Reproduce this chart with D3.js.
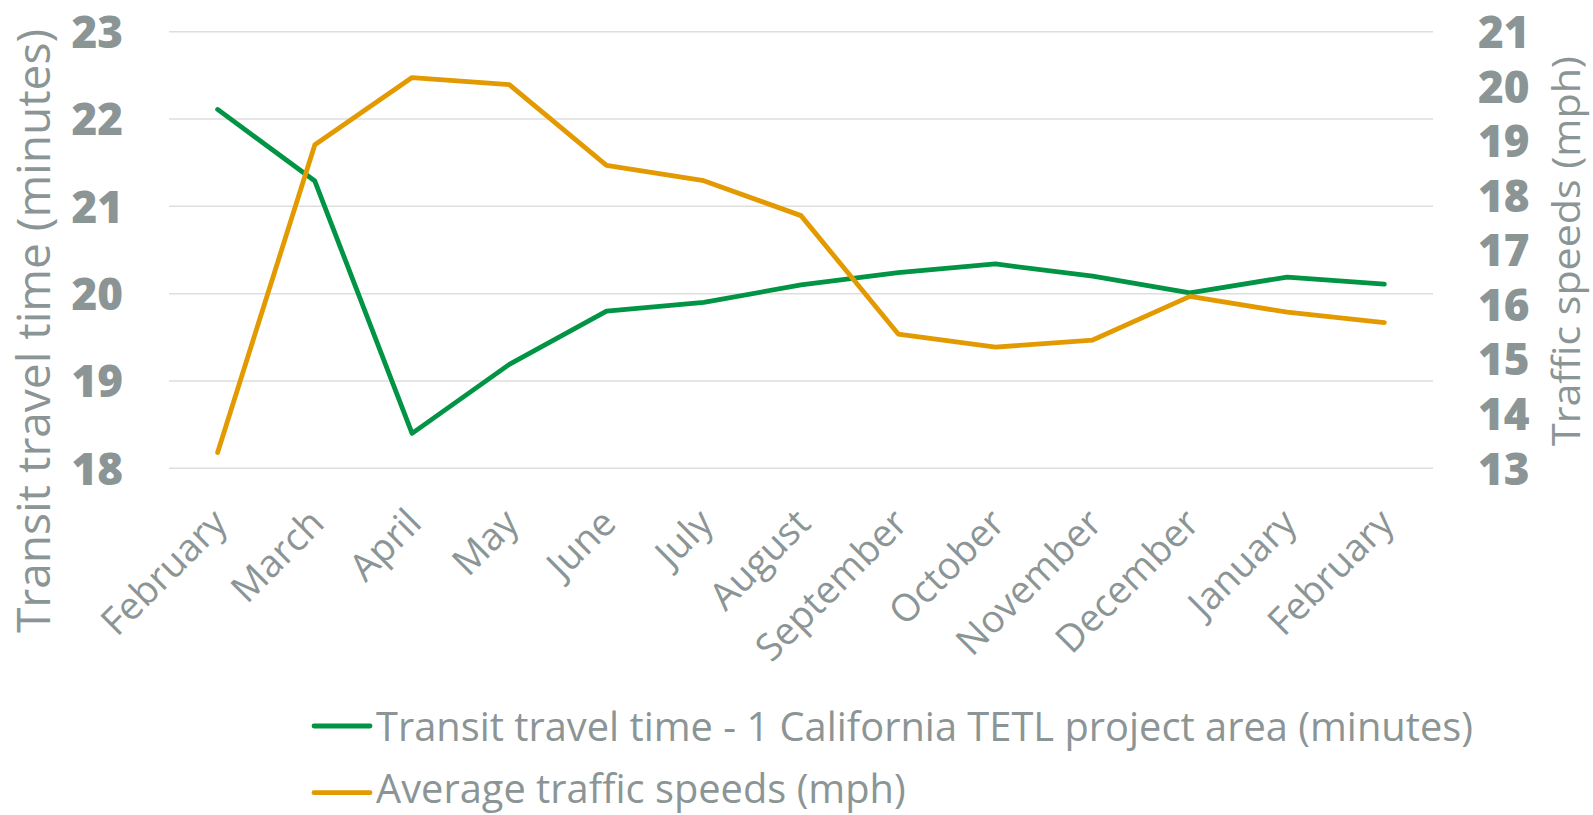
<!DOCTYPE html>
<html>
<head>
<meta charset="utf-8">
<script src="https://cdn.jsdelivr.net/npm/d3@7"></script>
<style>
  html, body { margin: 0; padding: 0; background: #fff; }
  svg { display: block; font-family: "Open Sans", "Noto Sans", sans-serif; }
</style>
</head>
<body>
<svg id="chart" width="1593" height="815"></svg>
<script>
// ---- data ----
const months = ["February","March","April","May","June","July","August","September","October","November","December","January","February"];
const transitTime = [22.11, 21.29, 18.40, 19.19, 19.80, 19.90, 20.10, 20.24, 20.34, 20.20, 20.01, 20.19, 20.11];
const trafficSpeed = [13.29, 18.93, 20.16, 20.03, 18.55, 18.27, 17.63, 15.46, 15.22, 15.35, 16.15, 15.86, 15.67];
const leftTicks = [18, 19, 20, 21, 22, 23];
const rightTicks = [13, 14, 15, 16, 17, 18, 19, 20, 21];
const seriesNames = ["Transit travel time - 1 California TETL project area (minutes)", "Average traffic speeds (mph)"];
const leftTitle = "Transit travel time (minutes)";
const rightTitle = "Traffic speeds (mph)";

// ---- style ----
const GREEN = "#009444", ORANGE = "#E39A00", TEXT = "#8c9595", GRID = "#dedede";
const plot = { left: 169, right: 1433, top: 31.7, bottom: 468.3 };

const svg = d3.select("#chart");

const x = d3.scalePoint().domain(d3.range(months.length)).range([plot.left, plot.right]).padding(0.5);
const yL = d3.scaleLinear().domain([18, 23]).range([plot.bottom, plot.top]);
const yR = d3.scaleLinear().domain([13, 21]).range([plot.bottom, plot.top]);

function fit(sel, target) {
  sel.each(function () {
    const len = this.getComputedTextLength();
    if (len > 0) d3.select(this).attr("textLength", target).attr("lengthAdjust", "spacingAndGlyphs");
  });
}
function squeeze(sel, k) {
  sel.each(function () {
    const len = this.getComputedTextLength();
    d3.select(this).attr("textLength", len * k).attr("lengthAdjust", "spacingAndGlyphs");
  });
}

// gridlines
svg.append("g").selectAll("line").data(leftTicks).join("line")
  .attr("x1", plot.left).attr("x2", plot.right)
  .attr("y1", d => yL(d)).attr("y2", d => yL(d))
  .attr("stroke", GRID).attr("stroke-width", 1.5);

// left axis
const gL = svg.append("g").attr("transform", `translate(${plot.left - 46},0)`)
  .call(d3.axisLeft(yL).tickValues(leftTicks).tickSize(0).tickPadding(0).tickFormat(d3.format("d")));
gL.select(".domain").remove();
gL.selectAll("text").attr("fill", TEXT).attr("font-size", 44).attr("font-weight", 800)
  .attr("font-family", "'Open Sans', sans-serif").attr("dy", "0.36em");

// right axis
const gR = svg.append("g").attr("transform", `translate(${plot.right + 45},0)`)
  .call(d3.axisRight(yR).tickValues(rightTicks).tickSize(0).tickPadding(0).tickFormat(d3.format("d")));
gR.select(".domain").remove();
gR.selectAll("text").attr("fill", TEXT).attr("font-size", 44).attr("font-weight", 800)
  .attr("font-family", "'Open Sans', sans-serif").attr("dy", "0.36em");

// x axis labels
const gX = svg.append("g").attr("transform", `translate(0,${plot.bottom})`)
  .call(d3.axisBottom(x).tickSize(0).tickFormat(i => months[i]));
gX.select(".domain").remove();
gX.selectAll("text")
  .attr("fill", TEXT).attr("font-size", 38).attr("font-family", "'Open Sans', sans-serif")
  .attr("text-anchor", "end").attr("dy", 0).attr("y", 0)
  .attr("transform", "translate(11,57) rotate(-45)");

// axis titles
const lt = svg.append("text").attr("transform", `translate(50,${(plot.top + plot.bottom) / 2 + 81}) rotate(-90)`)
  .attr("text-anchor", "middle").attr("fill", TEXT).attr("font-size", 46).text(leftTitle);
fit(lt, 604);
const rt = svg.append("text").attr("transform", `translate(1580,${(plot.top + plot.bottom) / 2 + 1}) rotate(-90)`)
  .attr("text-anchor", "middle").attr("fill", TEXT).attr("font-size", 38).text(rightTitle);
fit(rt, 390);

// lines
const lineL = d3.line().x((d, i) => x(i)).y(d => yL(d));
const lineR = d3.line().x((d, i) => x(i)).y(d => yR(d));
svg.append("path").datum(transitTime).attr("d", lineL)
  .attr("fill", "none").attr("stroke", GREEN).attr("stroke-width", 4.8)
  .attr("stroke-linejoin", "round").attr("stroke-linecap", "round");
svg.append("path").datum(trafficSpeed).attr("d", lineR)
  .attr("fill", "none").attr("stroke", ORANGE).attr("stroke-width", 4.8)
  .attr("stroke-linejoin", "round").attr("stroke-linecap", "round");

// legend
const legend = svg.append("g").attr("transform", "translate(314,726)");
const items = legend.selectAll("g").data(seriesNames).join("g")
  .attr("transform", (d, i) => `translate(0,${i * 66.7})`);
items.append("line").attr("x1", 0).attr("x2", 56).attr("y1", 0).attr("y2", 0)
  .attr("stroke", (d, i) => i === 0 ? GREEN : ORANGE).attr("stroke-width", 4.8).attr("stroke-linecap", "round");
const lgText = items.append("text").attr("x", 62).attr("y", (d, i) => i === 0 ? 14.7 : 10).attr("fill", TEXT)
  .attr("font-size", 41).text(d => d);
const natural = lgText.nodes()[0].getComputedTextLength();
const k = 1097 / natural;
squeeze(lgText, k);
</script>
</body>
</html>
